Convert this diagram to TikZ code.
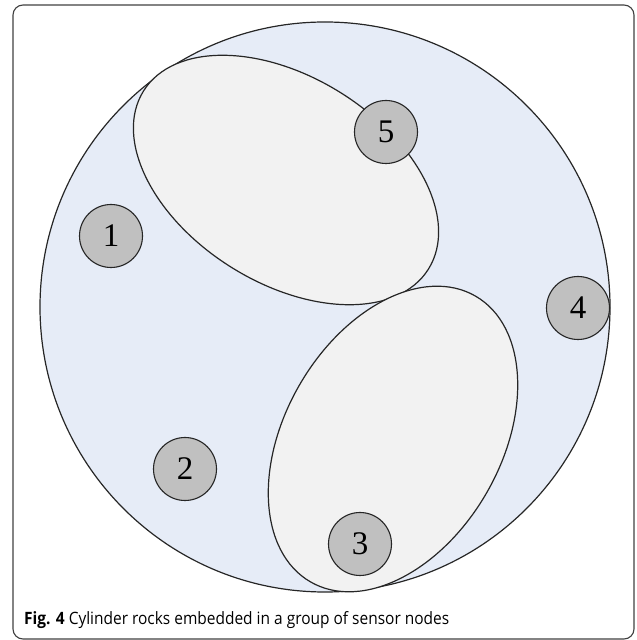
\documentclass[tikz,border=0pt]{standalone}
\usepackage{fontspec}
\setmainfont{Liberation Serif}
\newfontfamily\capfont[FakeStretch=0.91]{Open Sans}
\begin{document}
\begin{tikzpicture}[x=1pt,y=1pt,
  sensor/.style={circle,draw=black!85,line width=1.1pt,fill=sensorgray,minimum size=63pt,inner sep=0pt,font=\fontsize{33}{35}\selectfont},
  rock/.style={draw=black!85,line width=1.2pt,fill=rockgray}]
\definecolor{fieldblue}{HTML}{E6ECF7}
\definecolor{rockgray}{HTML}{F2F2F2}
\definecolor{sensorgray}{HTML}{C0C0C0}
\useasboundingbox (0,0) rectangle (637,640);
\draw[rounded corners=10pt,draw=black!75,line width=1.1pt] (13,1) rectangle (634,635);
\draw[draw=black!85,line width=1.2pt,fill=fieldblue] (325,333) circle (285);
\draw[rock,rotate around={-32:(286,460)}] (286,460) ellipse (168 and 103);
\draw[rock,rotate around={60:(393,201)}] (393,201) ellipse (165 and 108);
\node[sensor] (s1) at (111,404) {1};
\node[sensor] (s2) at (185,171) {2};
\node[sensor] (s3) at (360,96) {3};
\node[sensor] (s4) at (578,332) {4};
\node[sensor] (s5) at (386,508) {5};
\node[anchor=base west,inner sep=0pt,font=\capfont\fontsize{17}{20}\selectfont] (cap) at (24,15) {\textbf{Fig. 4} Cylinder rocks embedded in a group of sensor nodes};
\end{tikzpicture}
\end{document}
